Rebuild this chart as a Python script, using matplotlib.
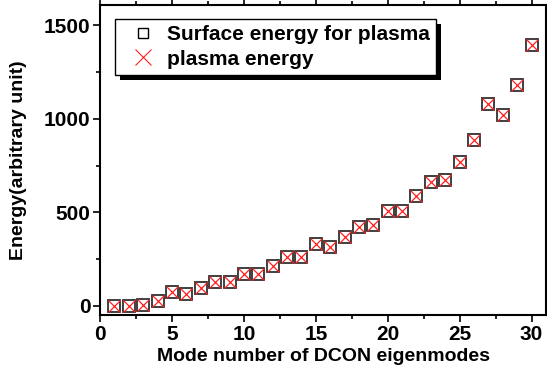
import matplotlib
matplotlib.use("Agg")
import matplotlib.pyplot as plt
from matplotlib.patches import Rectangle
from matplotlib.ticker import MultipleLocator

plt.rcParams['font.family'] = ['Liberation Sans', 'DejaVu Sans']
plt.rcParams['font.weight'] = 'bold'

modes = list(range(1, 31))
surface_energy = [0, 0, 2, 28, 75, 64, 98, 126, 128, 169,
                  169, 215, 263, 263, 331, 315, 370, 420, 432, 509,
                  509, 587, 660, 674, 770, 886, 1082, 1020, 1183, 1393]
plasma_energy = [0, 0, 2, 28, 75, 64, 98, 126, 128, 169,
                 169, 215, 263, 263, 331, 315, 370, 420, 432, 509,
                 509, 587, 660, 674, 770, 886, 1082, 1020, 1183, 1393]

fig = plt.figure(figsize=(5.47, 3.73), dpi=100)
ax = fig.add_axes([0.183, 0.155, 0.815, 0.832])

ax.plot(modes, surface_energy, linestyle='none', marker='s', markersize=8.5,
        markerfacecolor='none', markeredgecolor='#303030', markeredgewidth=1.3,
        label='Surface energy for plasma')
ax.plot(modes, plasma_energy, linestyle='none', marker='x', markersize=8.5,
        color='#ff2020', markeredgewidth=0.9, label='plasma energy')

ax.set_xlim(0, 31)
ax.set_ylim(-50, 1610)
ax.xaxis.set_major_locator(MultipleLocator(5))
ax.xaxis.set_minor_locator(MultipleLocator(2.5))
ax.yaxis.set_major_locator(MultipleLocator(500))
ax.yaxis.set_minor_locator(MultipleLocator(250))
ax.tick_params(which='both', direction='out', top=True, right=True,
               labelsize=15, width=1.2)
ax.tick_params(which='major', length=5, pad=2)
ax.tick_params(which='minor', length=3)
for s in ax.spines.values():
    s.set_linewidth(1.5)
for lbl in ax.get_xticklabels() + ax.get_yticklabels():
    lbl.set_fontweight('bold')

ax.set_xlabel('Mode number of DCON eigenmodes', fontsize=14, fontweight='bold', labelpad=3)
ax.set_ylabel('Energy(arbitrary unit)', fontsize=14, fontweight='bold', labelpad=12)

leg = ax.legend(loc='upper left', bbox_to_anchor=(0.0334, 0.954), fontsize=15,
                frameon=True, fancybox=False, edgecolor='black', framealpha=1,
                handletextpad=0.1, borderpad=0.3, labelspacing=0.25,
                handlelength=2.1, borderaxespad=0)
leg.get_frame().set_linewidth(1.0)
leg.set_zorder(6)
for t in leg.get_texts():
    t.set_fontweight('bold')
handles = leg.legend_handles
handles[0].set_markersize(7)
handles[0].set_markeredgecolor('black')
handles[0].set_markeredgewidth(1.0)
handles[1].set_markersize(11)
handles[1].set_markeredgewidth(0.8)

# solid drop shadow behind the legend box
fig.canvas.draw()
bb = leg.get_window_extent()
shadow = Rectangle((bb.x0 + 5, bb.y0 - 5), bb.width, bb.height,
                   transform=None, facecolor='black', edgecolor='none',
                   clip_on=False, zorder=5.5)
ax.add_artist(shadow)

fig.savefig('out.png', dpi=100)
